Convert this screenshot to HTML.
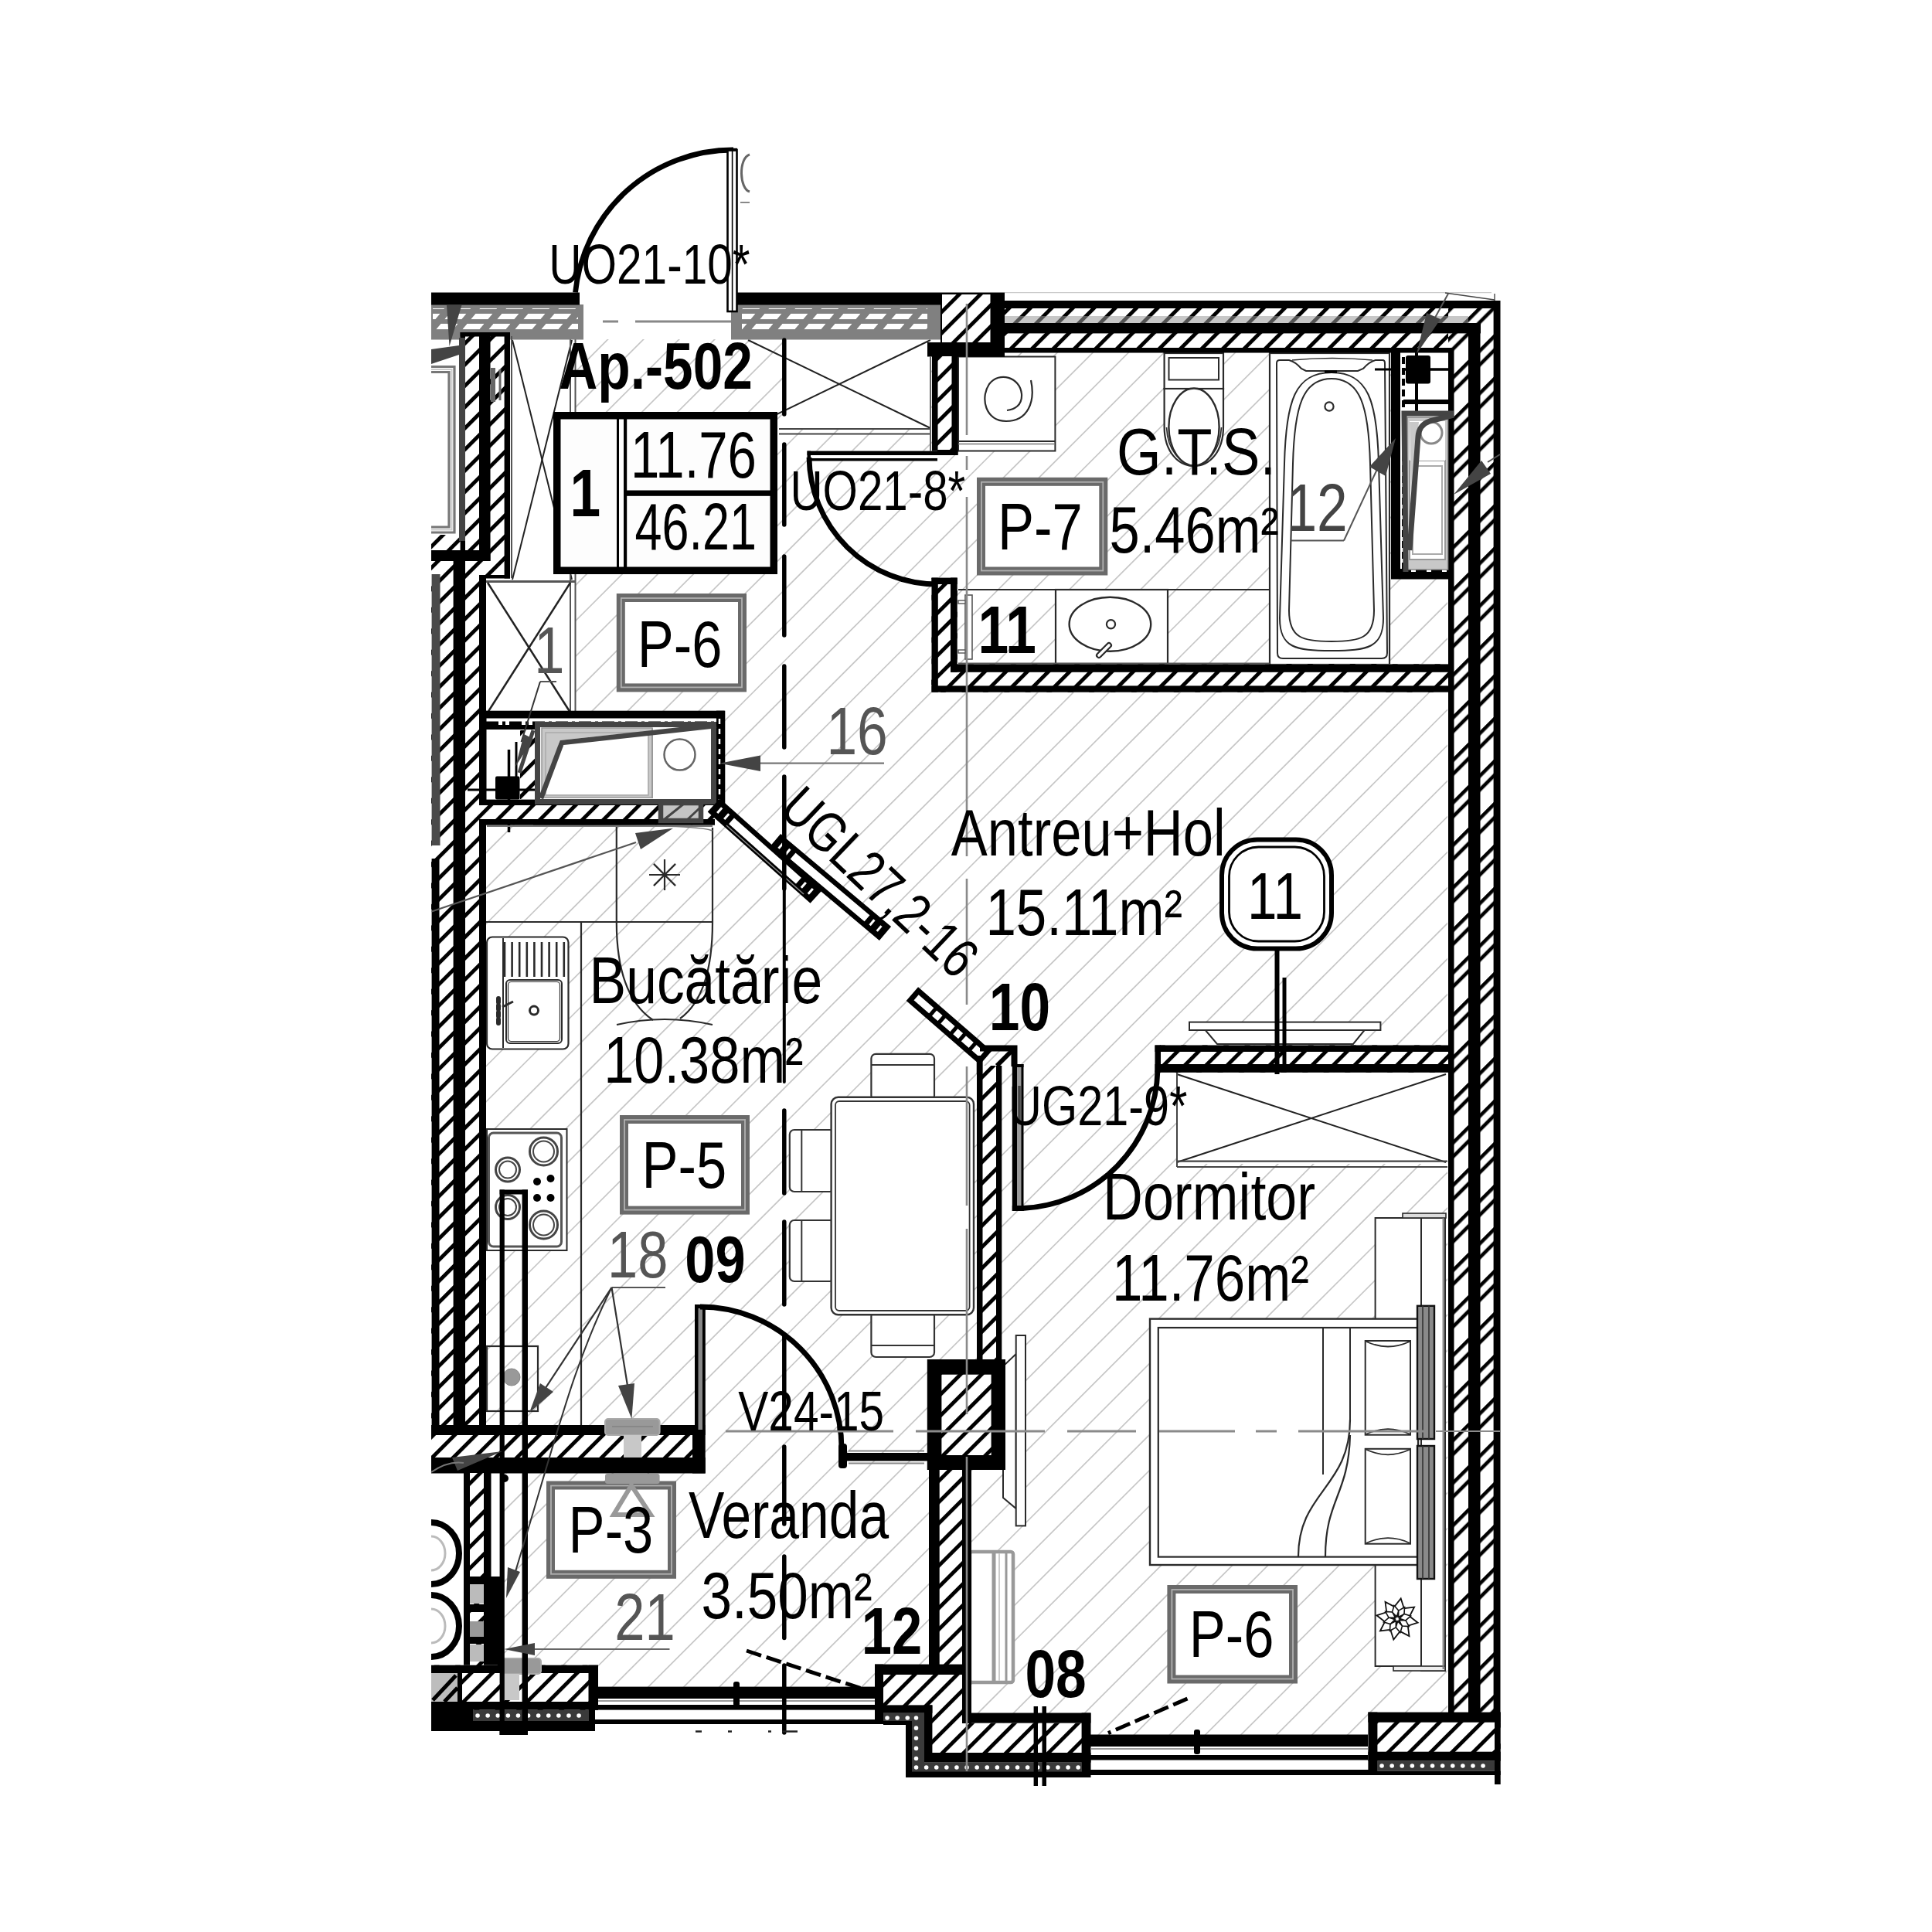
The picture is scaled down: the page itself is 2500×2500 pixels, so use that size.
<!DOCTYPE html>
<html lang="ro"><head><meta charset="utf-8"><title>Ap.-502</title>
<style>html,body{margin:0;padding:0;background:#fff}svg{display:block}text{font-family:"Liberation Sans",sans-serif}</style>
</head><body>
<svg width="2500" height="2500" viewBox="0 0 2500 2500">
<defs>
<pattern id="wh" patternUnits="userSpaceOnUse" width="20" height="19.4" patternTransform="rotate(-45)">
<rect width="20" height="19.4" fill="#fff"/><rect width="20" height="4.9" fill="#000"/></pattern>
<pattern id="wh2" patternUnits="userSpaceOnUse" width="20" height="38.9" patternTransform="rotate(-45)">
<rect width="20" height="38.9" fill="#fff"/><rect width="20" height="4.6" fill="#000"/><rect y="12.7" width="20" height="4.6" fill="#000"/></pattern>
<pattern id="gh" patternUnits="userSpaceOnUse" width="34" height="13" patternTransform="skewX(-40)">
<rect width="34" height="13" fill="#808080"/><rect x="4" y="3" width="22" height="7" fill="#fff"/></pattern>
<pattern id="ins" patternUnits="userSpaceOnUse" width="6" height="6">
<rect width="6" height="6" fill="#3a3a3a"/></pattern>
<clipPath id="floor"><polygon points="745,439 1873,439 1873,2250 1205,2250 1205,2190 650,2190 650,1906 629,1906 629,925 745,925"/></clipPath>
</defs>
<rect width="2500" height="2500" fill="#fff"/>

<g clip-path="url(#floor)" stroke="#c6c6c6" stroke-width="1.7">
<line x1="600" y1="441.5" x2="1900" y2="-858.5"/>
<line x1="600" y1="487.6" x2="1900" y2="-812.4"/>
<line x1="600" y1="533.6" x2="1900" y2="-766.4"/>
<line x1="600" y1="579.7" x2="1900" y2="-720.3"/>
<line x1="600" y1="625.7" x2="1900" y2="-674.3"/>
<line x1="600" y1="671.8" x2="1900" y2="-628.2"/>
<line x1="600" y1="717.8" x2="1900" y2="-582.2"/>
<line x1="600" y1="763.9" x2="1900" y2="-536.1"/>
<line x1="600" y1="809.9" x2="1900" y2="-490.1"/>
<line x1="600" y1="856.0" x2="1900" y2="-444.0"/>
<line x1="600" y1="902.0" x2="1900" y2="-398.0"/>
<line x1="600" y1="948.1" x2="1900" y2="-351.9"/>
<line x1="600" y1="994.1" x2="1900" y2="-305.9"/>
<line x1="600" y1="1040.2" x2="1900" y2="-259.8"/>
<line x1="600" y1="1086.2" x2="1900" y2="-213.8"/>
<line x1="600" y1="1132.2" x2="1900" y2="-167.8"/>
<line x1="600" y1="1178.3" x2="1900" y2="-121.7"/>
<line x1="600" y1="1224.4" x2="1900" y2="-75.6"/>
<line x1="600" y1="1270.4" x2="1900" y2="-29.6"/>
<line x1="600" y1="1316.5" x2="1900" y2="16.5"/>
<line x1="600" y1="1362.5" x2="1900" y2="62.5"/>
<line x1="600" y1="1408.6" x2="1900" y2="108.6"/>
<line x1="600" y1="1454.6" x2="1900" y2="154.6"/>
<line x1="600" y1="1500.7" x2="1900" y2="200.7"/>
<line x1="600" y1="1546.7" x2="1900" y2="246.7"/>
<line x1="600" y1="1592.8" x2="1900" y2="292.8"/>
<line x1="600" y1="1638.8" x2="1900" y2="338.8"/>
<line x1="600" y1="1684.9" x2="1900" y2="384.9"/>
<line x1="600" y1="1730.9" x2="1900" y2="430.9"/>
<line x1="600" y1="1776.9" x2="1900" y2="476.9"/>
<line x1="600" y1="1823.0" x2="1900" y2="523.0"/>
<line x1="600" y1="1869.1" x2="1900" y2="569.1"/>
<line x1="600" y1="1915.1" x2="1900" y2="615.1"/>
<line x1="600" y1="1961.2" x2="1900" y2="661.2"/>
<line x1="600" y1="2007.2" x2="1900" y2="707.2"/>
<line x1="600" y1="2053.2" x2="1900" y2="753.2"/>
<line x1="600" y1="2099.3" x2="1900" y2="799.3"/>
<line x1="600" y1="2145.4" x2="1900" y2="845.4"/>
<line x1="600" y1="2191.4" x2="1900" y2="891.4"/>
<line x1="600" y1="2237.4" x2="1900" y2="937.4"/>
<line x1="600" y1="2283.5" x2="1900" y2="983.5"/>
<line x1="600" y1="2329.6" x2="1900" y2="1029.6"/>
<line x1="600" y1="2375.6" x2="1900" y2="1075.6"/>
<line x1="600" y1="2421.7" x2="1900" y2="1121.7"/>
<line x1="600" y1="2467.7" x2="1900" y2="1167.7"/>
<line x1="600" y1="2513.8" x2="1900" y2="1213.8"/>
<line x1="600" y1="2559.8" x2="1900" y2="1259.8"/>
<line x1="600" y1="2605.8" x2="1900" y2="1305.8"/>
<line x1="600" y1="2651.9" x2="1900" y2="1351.9"/>
<line x1="600" y1="2697.9" x2="1900" y2="1397.9"/>
<line x1="600" y1="2744.0" x2="1900" y2="1444.0"/>
<line x1="600" y1="2790.1" x2="1900" y2="1490.1"/>
<line x1="600" y1="2836.1" x2="1900" y2="1536.1"/>
<line x1="600" y1="2882.2" x2="1900" y2="1582.2"/>
<line x1="600" y1="2928.2" x2="1900" y2="1628.2"/>
<line x1="600" y1="2974.2" x2="1900" y2="1674.2"/>
<line x1="600" y1="3020.3" x2="1900" y2="1720.3"/>
<line x1="600" y1="3066.3" x2="1900" y2="1766.3"/>
<line x1="600" y1="3112.4" x2="1900" y2="1812.4"/>
<line x1="600" y1="3158.4" x2="1900" y2="1858.4"/>
<line x1="600" y1="3204.5" x2="1900" y2="1904.5"/>
<line x1="600" y1="3250.6" x2="1900" y2="1950.6"/>
<line x1="600" y1="3296.6" x2="1900" y2="1996.6"/>
<line x1="600" y1="3342.7" x2="1900" y2="2042.7"/>
<line x1="600" y1="3388.7" x2="1900" y2="2088.7"/>
<line x1="600" y1="3434.8" x2="1900" y2="2134.8"/>
<line x1="600" y1="3480.8" x2="1900" y2="2180.8"/>
<line x1="600" y1="3526.9" x2="1900" y2="2226.9"/>
</g>
<rect x="660.0" y="439.0" width="81.0" height="486.0" fill="#fff" stroke="none" stroke-width="0" />
<rect x="1014.0" y="439.0" width="190.0" height="117.0" fill="#fff" stroke="none" stroke-width="0" />
<rect x="1523.0" y="1388.0" width="350.0" height="118.0" fill="#fff" stroke="none" stroke-width="0" />
<rect x="629.0" y="925.0" width="301.0" height="117.0" fill="#fff" stroke="none" stroke-width="0" />
<rect x="1800.0" y="456.0" width="74.0" height="293.0" fill="#fff" stroke="none" stroke-width="0" />
<line x1="663.0" y1="440.0" x2="740.0" y2="750.0" stroke="#222" stroke-width="2" />
<line x1="663.0" y1="750.0" x2="740.0" y2="440.0" stroke="#222" stroke-width="2" />
<line x1="738.0" y1="439.0" x2="738.0" y2="925.0" stroke="#555" stroke-width="2" />
<line x1="744.5" y1="439.0" x2="744.5" y2="925.0" stroke="#555" stroke-width="2" />
<rect x="629.0" y="752.5" width="109.0" height="170.5" fill="none" stroke="none" stroke-width="0" />
<line x1="629.0" y1="752.5" x2="745.0" y2="752.5" stroke="#555" stroke-width="3" />
<line x1="631.0" y1="754.0" x2="738.0" y2="922.0" stroke="#222" stroke-width="2.5" />
<line x1="631.0" y1="922.0" x2="738.0" y2="754.0" stroke="#222" stroke-width="2.5" />
<line x1="968.0" y1="440.0" x2="1204.0" y2="554.0" stroke="#222" stroke-width="2" />
<line x1="1204.0" y1="440.0" x2="968.0" y2="554.0" stroke="#222" stroke-width="2" />
<line x1="1008.0" y1="555.0" x2="1203.0" y2="555.0" stroke="#444" stroke-width="2.2" />
<line x1="1008.0" y1="561.5" x2="1203.0" y2="561.5" stroke="#444" stroke-width="2.2" />
<line x1="1523.0" y1="1390.0" x2="1871.0" y2="1504.0" stroke="#222" stroke-width="2" />
<line x1="1523.0" y1="1504.0" x2="1871.0" y2="1390.0" stroke="#222" stroke-width="2" />
<line x1="1523.0" y1="1388.0" x2="1523.0" y2="1510.0" stroke="#444" stroke-width="2" />
<line x1="1523.0" y1="1502.6" x2="1873.0" y2="1502.6" stroke="#444" stroke-width="2.2" />
<line x1="1523.0" y1="1510.0" x2="1873.0" y2="1510.0" stroke="#444" stroke-width="2.2" />
<rect x="716.0" y="533.0" width="290.0" height="210.0" fill="#000" stroke="none" stroke-width="0" />
<rect x="725.5" y="542.5" width="72.5" height="191.0" fill="#fdfdfd" stroke="none" stroke-width="0" />
<rect x="801.0" y="542.5" width="6.0" height="191.0" fill="#fdfdfd" stroke="none" stroke-width="0" />
<rect x="811.2" y="542.5" width="185.3" height="92.0" fill="#fdfdfd" stroke="none" stroke-width="0" />
<rect x="811.2" y="641.8" width="185.3" height="91.7" fill="#fdfdfd" stroke="none" stroke-width="0" />
<line x1="629.0" y1="1193.0" x2="922.0" y2="1193.0" stroke="#2a2a2a" stroke-width="2.2" />
<line x1="797.8" y1="1068.0" x2="797.8" y2="1193.0" stroke="#2a2a2a" stroke-width="2.2" />
<line x1="752.0" y1="1193.0" x2="752.0" y2="1844.0" stroke="#2a2a2a" stroke-width="2.2" />
<path d="M797.8,1193 C797.8,1260 815,1300 845,1320 M922,1071 L922,1193 C922,1262 905,1300 880,1318" fill="none" stroke="#2a2a2a" stroke-width="2.2" />
<path d="M798,1326 Q860,1312 922,1326" fill="none" stroke="#2a2a2a" stroke-width="2" />
<path d="M690,1068 Q905,1066 922,1075" fill="none" stroke="#777" stroke-width="1.5" />
<line x1="840.0" y1="1132.0" x2="880.0" y2="1132.0" stroke="#2a2a2a" stroke-width="2.2" />
<line x1="845.9" y1="1117.9" x2="874.1" y2="1146.1" stroke="#2a2a2a" stroke-width="2.2" />
<line x1="860.0" y1="1112.0" x2="860.0" y2="1152.0" stroke="#2a2a2a" stroke-width="2.2" />
<line x1="874.1" y1="1117.9" x2="845.9" y2="1146.1" stroke="#2a2a2a" stroke-width="2.2" />
<rect x="630.0" y="1212.5" width="105.5" height="145.0" fill="#fff" stroke="#2a2a2a" stroke-width="2.2" rx="7"/>
<line x1="651.0" y1="1214.0" x2="651.0" y2="1356.0" stroke="#2a2a2a" stroke-width="2" />
<line x1="653.0" y1="1219.0" x2="653.0" y2="1264.0" stroke="#2a2a2a" stroke-width="2.6" />
<line x1="662.6" y1="1219.0" x2="662.6" y2="1264.0" stroke="#2a2a2a" stroke-width="2.6" />
<line x1="672.2" y1="1219.0" x2="672.2" y2="1264.0" stroke="#2a2a2a" stroke-width="2.6" />
<line x1="681.8" y1="1219.0" x2="681.8" y2="1264.0" stroke="#2a2a2a" stroke-width="2.6" />
<line x1="691.4" y1="1219.0" x2="691.4" y2="1264.0" stroke="#2a2a2a" stroke-width="2.6" />
<line x1="701.0" y1="1219.0" x2="701.0" y2="1264.0" stroke="#2a2a2a" stroke-width="2.6" />
<line x1="710.6" y1="1219.0" x2="710.6" y2="1264.0" stroke="#2a2a2a" stroke-width="2.6" />
<line x1="720.2" y1="1219.0" x2="720.2" y2="1264.0" stroke="#2a2a2a" stroke-width="2.6" />
<line x1="729.8" y1="1219.0" x2="729.8" y2="1264.0" stroke="#2a2a2a" stroke-width="2.6" />
<rect x="655.0" y="1268.0" width="72.0" height="82.0" fill="#fff" stroke="#2a2a2a" stroke-width="2" rx="5"/>
<rect x="657.5" y="1270.5" width="67.0" height="77.0" fill="none" stroke="#2a2a2a" stroke-width="1.2" rx="4"/>
<circle cx="691.0" cy="1307.6" r="5.5" fill="#fff" stroke="#2a2a2a" stroke-width="3"/>
<path d="M645,1292 L645,1326" fill="none" stroke="#2a2a2a" stroke-width="6" stroke-dasharray="5 4" stroke-linecap="round"/>
<path d="M650,1303 L664,1296" fill="none" stroke="#2a2a2a" stroke-width="3" />
<rect x="630.0" y="1461.0" width="103.5" height="157.0" fill="#fff" stroke="#2a2a2a" stroke-width="2" />
<rect x="632.5" y="1466.0" width="94.0" height="147.0" fill="none" stroke="#555" stroke-width="3" rx="6"/>
<circle cx="703.5" cy="1490.0" r="18.0" fill="#fff" stroke="#444" stroke-width="3"/>
<circle cx="703.5" cy="1490.0" r="13.5" fill="none" stroke="#444" stroke-width="2"/>
<circle cx="657.0" cy="1513.6" r="15.5" fill="#fff" stroke="#444" stroke-width="3"/>
<circle cx="657.0" cy="1513.6" r="11.0" fill="none" stroke="#444" stroke-width="2"/>
<circle cx="657.0" cy="1562.0" r="15.5" fill="#fff" stroke="#444" stroke-width="3"/>
<circle cx="657.0" cy="1562.0" r="11.0" fill="none" stroke="#444" stroke-width="2"/>
<circle cx="703.5" cy="1585.0" r="18.0" fill="#fff" stroke="#444" stroke-width="3"/>
<circle cx="703.5" cy="1585.0" r="13.5" fill="none" stroke="#444" stroke-width="2"/>
<circle cx="695.0" cy="1529.0" r="5.0" fill="#000" stroke="none" stroke-width="0"/>
<circle cx="712.5" cy="1525.0" r="5.0" fill="#000" stroke="none" stroke-width="0"/>
<circle cx="695.0" cy="1550.0" r="5.0" fill="#000" stroke="none" stroke-width="0"/>
<circle cx="712.5" cy="1550.0" r="5.0" fill="#000" stroke="none" stroke-width="0"/>
<rect x="630.0" y="1742.0" width="66.0" height="84.0" fill="none" stroke="#2a2a2a" stroke-width="2.2" />
<circle cx="662.0" cy="1782.0" r="11.0" fill="#999" stroke="#888" stroke-width="1"/>
<rect x="1127.4" y="1363.8" width="81.6" height="60.0" fill="#fff" stroke="#333" stroke-width="2.2" rx="6"/>
<line x1="1128.0" y1="1378.0" x2="1208.5" y2="1378.0" stroke="#333" stroke-width="2" />
<rect x="1127.4" y="1697.0" width="81.6" height="59.0" fill="#fff" stroke="#333" stroke-width="2.2" rx="6"/>
<line x1="1128.0" y1="1741.0" x2="1208.5" y2="1741.0" stroke="#333" stroke-width="2" />
<rect x="1021.8" y="1462.0" width="58.0" height="80.0" fill="#fff" stroke="#333" stroke-width="2.2" rx="6"/>
<line x1="1037.3" y1="1463.0" x2="1037.3" y2="1541.0" stroke="#333" stroke-width="2" />
<rect x="1021.8" y="1579.0" width="58.0" height="79.0" fill="#fff" stroke="#333" stroke-width="2.2" rx="6"/>
<line x1="1037.3" y1="1580.0" x2="1037.3" y2="1657.0" stroke="#333" stroke-width="2" />
<rect x="1075.6" y="1419.7" width="184.4" height="281.6" fill="#fff" stroke="#333" stroke-width="2.4" rx="9"/>
<rect x="1081.0" y="1425.0" width="173.6" height="271.0" fill="none" stroke="#333" stroke-width="1.8" rx="5"/>
<rect x="1240.0" y="461.5" width="125.4" height="122.0" fill="#fff" stroke="#2a2a2a" stroke-width="2" />
<line x1="1240.0" y1="571.0" x2="1365.0" y2="571.0" stroke="#2a2a2a" stroke-width="2" />
<line x1="1240.0" y1="574.5" x2="1365.0" y2="574.5" stroke="#777" stroke-width="1.5" />
<path d="M1334,492 C1340,520 1330,545 1302,545 C1275,545 1268,515 1280,497 C1293,480 1320,488 1322,510 C1323,525 1312,530 1303,531" fill="none" stroke="#2a2a2a" stroke-width="2.2" />
<rect x="1506.6" y="457.0" width="76.4" height="46.0" fill="#fff" stroke="#2a2a2a" stroke-width="2.2" />
<rect x="1512.5" y="463.0" width="64.5" height="28.5" fill="none" stroke="#2a2a2a" stroke-width="2" />
<path d="M1506.6,503 L1506.6,552 C1506.6,585 1525,603 1545,603 C1565,603 1583,585 1583,552 L1583,503 Z" fill="#fff" stroke="#2a2a2a" stroke-width="2.2" />
<path d="M1509.5,553 C1511,584 1527,599.5 1545,599.5 C1563,599.5 1579,584 1580.5,553" fill="none" stroke="#2a2a2a" stroke-width="1.6" />
<ellipse cx="1545.0" cy="552.5" rx="32.6" ry="50.0" fill="#fff" stroke="#2a2a2a" stroke-width="2.4"/>
<rect x="1643.0" y="457.0" width="155.0" height="403.0" fill="#fff" stroke="#2a2a2a" stroke-width="2.2" />
<path d="M1652,470 Q1652,466 1656,466 L1668,466 Q1676,468 1684,477 L1690,480 L1757,480 L1764,477 Q1772,468 1780,466 L1789,466 Q1792,466 1792,470 L1795,845 Q1795,852 1788,852 L1660,852 Q1653,852 1653,845 Z" fill="#fff" stroke="#2a2a2a" stroke-width="2" />
<path d="M1672,466 Q1724,461 1776,466" fill="none" stroke="#2a2a2a" stroke-width="1.6" />
<path d="M1662,600 C1664,520 1675,482 1723,482 C1771,482 1782,520 1784,600 L1790,800 C1790,838 1770,842 1723,842 C1676,842 1656,838 1656,800 Z" fill="none" stroke="#2a2a2a" stroke-width="2" />
<path d="M1673,600 C1675,525 1686,490 1723,490 C1760,490 1771,525 1773,600 L1778,790 C1778,826 1760,830 1723,830 C1686,830 1668,826 1668,790 Z" fill="none" stroke="#2a2a2a" stroke-width="2" />
<circle cx="1720.0" cy="526.0" r="5.6" fill="#fff" stroke="#2a2a2a" stroke-width="2.2"/>
<line x1="1714.0" y1="481.0" x2="1730.0" y2="481.0" stroke="#000" stroke-width="3.5" />
<line x1="1240.0" y1="763.0" x2="1643.0" y2="763.0" stroke="#2a2a2a" stroke-width="2" />
<rect x="1366.0" y="763.0" width="145.0" height="96.0" fill="#fff" stroke="#2a2a2a" stroke-width="2.2" />
<ellipse cx="1436.4" cy="807.7" rx="52.8" ry="35.0" fill="#fff" stroke="#2a2a2a" stroke-width="2.4"/>
<circle cx="1437.5" cy="807.7" r="5.6" fill="#fff" stroke="#2a2a2a" stroke-width="2.2"/>
<path d="M1422,848 L1435,835" fill="none" stroke="#2a2a2a" stroke-width="8" stroke-linecap="round"/>
<path d="M1422,848 L1435,835" fill="none" stroke="#fff" stroke-width="3.6" stroke-linecap="round"/>
<rect x="1249.0" y="770.0" width="9.0" height="83.0" fill="#fff" stroke="#555" stroke-width="1.6" />
<rect x="1240.0" y="777.0" width="9.0" height="4.0" fill="#fff" stroke="#555" stroke-width="1.4" />
<rect x="1240.0" y="841.0" width="9.0" height="4.0" fill="#fff" stroke="#555" stroke-width="1.4" />
<polygon points="1559.7,1333.0 1765.7,1333.0 1751.0,1351.0 1575.0,1351.0" fill="#fff" stroke="#2a2a2a" stroke-width="2" />
<rect x="1539.0" y="1322.6" width="247.4" height="10.4" fill="#fff" stroke="#2a2a2a" stroke-width="2" />
<rect x="1779.6" y="1576.0" width="59.4" height="580.0" fill="#fff" stroke="#2a2a2a" stroke-width="2" />
<rect x="1839.0" y="1576.0" width="31.0" height="586.0" fill="#fff" stroke="#2a2a2a" stroke-width="2" />
<rect x="1815.0" y="1570.0" width="56.0" height="6.0" fill="#ddd" stroke="#2a2a2a" stroke-width="1.6" />
<rect x="1803.0" y="2156.0" width="67.0" height="6.0" fill="#eee" stroke="#2a2a2a" stroke-width="1.6" />
<line x1="1867.6" y1="1576.0" x2="1867.6" y2="2160.0" stroke="#777" stroke-width="2" />
<rect x="1488.0" y="1706.6" width="347.0" height="318.4" fill="#fff" stroke="#2a2a2a" stroke-width="2.4" />
<rect x="1498.8" y="1718.0" width="336.2" height="296.6" fill="#fff" stroke="#2a2a2a" stroke-width="2.2" />
<line x1="1712.0" y1="1718.0" x2="1712.0" y2="1908.0" stroke="#2a2a2a" stroke-width="2" />
<line x1="1747.0" y1="1718.0" x2="1747.0" y2="1840.0" stroke="#2a2a2a" stroke-width="2" />
<path d="M1747,1837 C1747,1925 1680,1930 1680,2014" fill="none" stroke="#2a2a2a" stroke-width="2.2" />
<path d="M1747,1857 C1745,1935 1715,1940 1715,2014" fill="none" stroke="#2a2a2a" stroke-width="2.2" />
<rect x="1766.7" y="1735.0" width="58.3" height="121.7" fill="#fff" stroke="#2a2a2a" stroke-width="2" />
<path d="M1768,1736 Q1796,1749 1824,1736" fill="none" stroke="#2a2a2a" stroke-width="1.8" />
<path d="M1768,1855.7 Q1796,1842.7 1824,1855.7" fill="none" stroke="#2a2a2a" stroke-width="1.8" />
<rect x="1766.7" y="1874.8" width="58.3" height="122.9" fill="#fff" stroke="#2a2a2a" stroke-width="2" />
<path d="M1768,1875.8 Q1796,1888.8 1824,1875.8" fill="none" stroke="#2a2a2a" stroke-width="1.8" />
<path d="M1768,1996.7 Q1796,1983.7 1824,1996.7" fill="none" stroke="#2a2a2a" stroke-width="1.8" />
<rect x="1834.0" y="1689.8" width="22.0" height="172.2" fill="#8a8a8a" stroke="#111" stroke-width="2.4" />
<line x1="1841.0" y1="1689.8" x2="1841.0" y2="1862.0" stroke="#333" stroke-width="1.6" />
<line x1="1849.0" y1="1689.8" x2="1849.0" y2="1862.0" stroke="#333" stroke-width="1.6" />
<rect x="1834.0" y="1871.0" width="22.0" height="172.0" fill="#8a8a8a" stroke="#111" stroke-width="2.4" />
<line x1="1841.0" y1="1871.0" x2="1841.0" y2="2043.0" stroke="#333" stroke-width="1.6" />
<line x1="1849.0" y1="1871.0" x2="1849.0" y2="2043.0" stroke="#333" stroke-width="1.6" />
<polygon points="1811.9,2095.7 1822.7,2103.5 1834.6,2099.7 1824.7,2092.0" fill="#fff" stroke="#111" stroke-width="1.8" />
<polygon points="1810.3,2098.3 1812.4,2111.4 1823.5,2117.1 1821.9,2104.7" fill="#fff" stroke="#111" stroke-width="1.8" />
<polygon points="1807.3,2098.9 1799.5,2109.7 1803.3,2121.6 1811.0,2111.7" fill="#fff" stroke="#111" stroke-width="1.8" />
<polygon points="1804.7,2097.3 1791.6,2099.4 1785.9,2110.5 1798.3,2108.9" fill="#fff" stroke="#111" stroke-width="1.8" />
<polygon points="1804.1,2094.3 1793.3,2086.5 1781.4,2090.3 1791.3,2098.0" fill="#fff" stroke="#111" stroke-width="1.8" />
<polygon points="1805.7,2091.7 1803.6,2078.6 1792.5,2072.9 1794.1,2085.3" fill="#fff" stroke="#111" stroke-width="1.8" />
<polygon points="1808.7,2091.1 1816.5,2080.3 1812.7,2068.4 1805.0,2078.3" fill="#fff" stroke="#111" stroke-width="1.8" />
<polygon points="1811.3,2092.7 1824.4,2090.6 1830.1,2079.5 1817.7,2081.1" fill="#fff" stroke="#111" stroke-width="1.8" />
<polygon points="1810.5,2096.6 1814.3,2104.0 1823.3,2104.5 1818.9,2096.7" fill="#fff" stroke="#111" stroke-width="1.6" />
<polygon points="1808.7,2097.9 1806.1,2105.8 1812.0,2112.5 1814.5,2103.9" fill="#fff" stroke="#111" stroke-width="1.6" />
<polygon points="1806.4,2097.5 1799.0,2101.3 1798.5,2110.3 1806.3,2105.9" fill="#fff" stroke="#111" stroke-width="1.6" />
<polygon points="1805.1,2095.7 1797.2,2093.1 1790.5,2099.0 1799.1,2101.5" fill="#fff" stroke="#111" stroke-width="1.6" />
<polygon points="1805.5,2093.4 1801.7,2086.0 1792.7,2085.5 1797.1,2093.3" fill="#fff" stroke="#111" stroke-width="1.6" />
<polygon points="1807.3,2092.1 1809.9,2084.2 1804.0,2077.5 1801.5,2086.1" fill="#fff" stroke="#111" stroke-width="1.6" />
<polygon points="1809.6,2092.5 1817.0,2088.7 1817.5,2079.7 1809.7,2084.1" fill="#fff" stroke="#111" stroke-width="1.6" />
<polygon points="1810.9,2094.3 1818.8,2096.9 1825.5,2091.0 1816.9,2088.5" fill="#fff" stroke="#111" stroke-width="1.6" />
<polygon points="1298.0,1768.0 1314.7,1752.0 1314.7,1952.0 1298.0,1938.0" fill="#fff" stroke="#2a2a2a" stroke-width="2" />
<rect x="1314.7" y="1728.0" width="12.3" height="246.4" fill="#fff" stroke="#2a2a2a" stroke-width="2" />
<rect x="1255.0" y="2008.0" width="56.0" height="169.0" fill="#fff" stroke="#999" stroke-width="4.5" rx="3"/>
<line x1="1286.0" y1="2010.0" x2="1286.0" y2="2175.0" stroke="#999" stroke-width="5" />
<line x1="1293.0" y1="2010.0" x2="1293.0" y2="2175.0" stroke="#ccc" stroke-width="2" />
<line x1="1302.0" y1="2010.0" x2="1302.0" y2="2175.0" stroke="#999" stroke-width="3" />
<rect x="558.0" y="394.0" width="197.0" height="45.5" fill="#808080" stroke="none" stroke-width="0" />
<rect x="946.0" y="394.0" width="271.0" height="45.5" fill="#808080" stroke="none" stroke-width="0" />
<rect x="560.0" y="399.0" width="188.0" height="30.0" fill="url(#gh)" stroke="none" stroke-width="0" />
<rect x="960.0" y="399.0" width="240.0" height="30.0" fill="url(#gh)" stroke="none" stroke-width="0" />
<rect x="558.0" y="378.5" width="192.0" height="16.0" fill="#000" stroke="none" stroke-width="0" />
<rect x="951.5" y="378.5" width="265.5" height="16.0" fill="#000" stroke="none" stroke-width="0" />
<polygon points="578.0,394.7 597.5,394.7 581.5,448.0" fill="#444" stroke="none" stroke-width="0" />
<rect x="1217.0" y="378.5" width="83.0" height="83.0" fill="#000" stroke="none" stroke-width="0" />
<rect x="1219.0" y="381.0" width="62.5" height="62.0" fill="url(#wh)" stroke="none" stroke-width="0" />
<rect x="1200.0" y="443.0" width="100.0" height="18.5" fill="#000" stroke="none" stroke-width="0" />
<rect x="1300.0" y="389.0" width="641.0" height="67.0" fill="url(#wh)" stroke="none" stroke-width="0" />
<rect x="1874.0" y="389.0" width="67.0" height="1827.0" fill="url(#wh2)" stroke="none" stroke-width="0" />
<rect x="1300.0" y="399.0" width="616.0" height="19.0" fill="none" stroke="none" stroke-width="0" />
<rect x="1300.0" y="409.0" width="600.0" height="9.0" fill="#999" stroke="none" stroke-width="0" opacity="0.55"/>
<rect x="1300.0" y="389.0" width="641.0" height="10.0" fill="#000" stroke="none" stroke-width="0" />
<rect x="1932.6" y="389.0" width="8.9" height="1827.0" fill="#000" stroke="none" stroke-width="0" />
<rect x="1300.0" y="418.0" width="616.0" height="13.4" fill="#000" stroke="none" stroke-width="0" />
<rect x="1900.0" y="418.0" width="15.5" height="1798.0" fill="#000" stroke="none" stroke-width="0" />
<rect x="1300.0" y="450.0" width="581.0" height="6.5" fill="#000" stroke="none" stroke-width="0" />
<rect x="1874.0" y="450.0" width="7.5" height="1766.0" fill="#000" stroke="none" stroke-width="0" />
<line x1="1300.0" y1="378.6" x2="1930.0" y2="378.6" stroke="#ccc" stroke-width="1.2" />
<line x1="1934.0" y1="380.0" x2="1934.0" y2="389.0" stroke="#555" stroke-width="1.5" />
<path d="M1870,379 L1934,388" fill="none" stroke="#444" stroke-width="1.5" />
<rect x="1208.0" y="461.0" width="31.0" height="128.0" fill="url(#wh)" stroke="none" stroke-width="0" />
<rect x="1206.0" y="461.0" width="7.5" height="128.0" fill="#000" stroke="none" stroke-width="0" />
<rect x="1231.5" y="461.0" width="8.0" height="128.0" fill="#000" stroke="none" stroke-width="0" />
<rect x="1206.0" y="582.0" width="33.5" height="7.0" fill="#000" stroke="none" stroke-width="0" />
<line x1="1204.0" y1="461.0" x2="1204.0" y2="586.0" stroke="#666" stroke-width="2" />
<rect x="1205.5" y="748.0" width="33.2" height="147.7" fill="url(#wh)" stroke="none" stroke-width="0" />
<rect x="1205.5" y="859.4" width="668.5" height="36.3" fill="url(#wh)" stroke="none" stroke-width="0" />
<rect x="1205.5" y="747.6" width="8.3" height="148.1" fill="#000" stroke="none" stroke-width="0" />
<rect x="1205.5" y="887.4" width="668.5" height="8.3" fill="#000" stroke="none" stroke-width="0" />
<rect x="1205.5" y="747.6" width="33.2" height="8.4" fill="#000" stroke="none" stroke-width="0" />
<rect x="1230.0" y="747.6" width="8.7" height="122.2" fill="#000" stroke="none" stroke-width="0" />
<rect x="1230.0" y="859.4" width="644.0" height="10.4" fill="#000" stroke="none" stroke-width="0" />
<line x1="1240.0" y1="858.5" x2="1643.0" y2="858.5" stroke="#555" stroke-width="2" />
<rect x="1800.0" y="450.0" width="81.0" height="299.0" fill="none" stroke="#000" stroke-width="0" />
<rect x="1800.0" y="456.0" width="12.0" height="293.0" fill="#000" stroke="none" stroke-width="0" />
<rect x="1800.0" y="740.0" width="81.0" height="9.5" fill="#000" stroke="none" stroke-width="0" />
<line x1="1816.0" y1="462.0" x2="1816.0" y2="740.0" stroke="#000" stroke-width="4" stroke-dasharray="9 5"/>
<line x1="1816.0" y1="520.0" x2="1874.0" y2="520.0" stroke="#000" stroke-width="6" />
<line x1="1816.0" y1="478.0" x2="1874.0" y2="478.0" stroke="#000" stroke-width="3.5" />
<line x1="1833.0" y1="456.0" x2="1833.0" y2="535.0" stroke="#000" stroke-width="4" />
<rect x="1819.0" y="460.0" width="32.0" height="36.5" fill="#000" stroke="none" stroke-width="0" rx="3"/>
<line x1="1779.0" y1="478.0" x2="1800.0" y2="478.0" stroke="#000" stroke-width="3" />
<line x1="1812.0" y1="738.0" x2="1874.0" y2="738.0" stroke="#000" stroke-width="4" stroke-dasharray="14 6"/>
<rect x="1821.0" y="540.0" width="52.6" height="197.0" fill="#c8c8c8" stroke="#888" stroke-width="1.5" />
<rect x="1824.0" y="596.0" width="46.0" height="128.0" fill="#fff" stroke="#999" stroke-width="2" />
<rect x="1828.0" y="603.0" width="38.0" height="114.0" fill="#fff" stroke="#aaa" stroke-width="2" />
<rect x="1824.0" y="545.0" width="46.0" height="51.0" fill="#fff" stroke="none" stroke-width="0" />
<path d="M1824,546 L1836,546 L1826,640 Z" fill="#c8c8c8" stroke="none" stroke-width="0" />
<circle cx="1852.0" cy="560.0" r="14.0" fill="#fff" stroke="#888" stroke-width="3"/>
<path d="M1881,535 L1817,535 L1819,740" fill="none" stroke="#444" stroke-width="7" stroke-linejoin="miter"/>
<path d="M1881,537 L1850,545 Q1836,550 1835,565 L1824,712" fill="none" stroke="#444" stroke-width="7" stroke-linejoin="round"/>
<rect x="596.0" y="430.0" width="64.0" height="318.0" fill="url(#wh)" stroke="none" stroke-width="0" />
<rect x="558.0" y="692.0" width="102.0" height="56.0" fill="url(#wh)" stroke="none" stroke-width="0" />
<rect x="558.0" y="726.0" width="71.0" height="1180.0" fill="url(#wh)" stroke="none" stroke-width="0" />
<rect x="595.6" y="430.0" width="6.4" height="296.0" fill="#000" stroke="none" stroke-width="0" />
<rect x="595.6" y="430.0" width="64.4" height="5.5" fill="#000" stroke="none" stroke-width="0" />
<rect x="620.0" y="430.0" width="14.5" height="296.0" fill="#000" stroke="none" stroke-width="0" />
<rect x="652.6" y="430.0" width="7.4" height="318.5" fill="#000" stroke="none" stroke-width="0" />
<line x1="662.0" y1="435.0" x2="662.0" y2="748.0" stroke="#555" stroke-width="2" />
<rect x="558.0" y="712.0" width="76.5" height="14.0" fill="#000" stroke="none" stroke-width="0" />
<rect x="586.6" y="712.0" width="15.4" height="1194.0" fill="#000" stroke="none" stroke-width="0" />
<rect x="620.0" y="744.0" width="40.0" height="4.5" fill="#000" stroke="none" stroke-width="0" />
<rect x="620.0" y="744.0" width="9.0" height="1100.0" fill="#000" stroke="none" stroke-width="0" />
<rect x="558.6" y="743.0" width="10.9" height="351.0" fill="#4a4a4a" stroke="none" stroke-width="0" />
<rect x="558.6" y="1111.0" width="9.9" height="795.0" fill="#000" stroke="none" stroke-width="0" />
<path d="M558,474.5 L588,474.5 L588,689 L558,689" fill="none" stroke="#777" stroke-width="3.2" />
<path d="M558,481.5 L581,481.5 L581,682 L558,682" fill="none" stroke="#777" stroke-width="3.2" />
<path d="M558,478 L584.5,478 L584.5,685.5 L558,685.5" fill="none" stroke="#ccc" stroke-width="2" />
<polygon points="558.0,452.0 594.0,447.0 594.0,459.0 558.0,471.0" fill="#444" stroke="none" stroke-width="0" />
<rect x="594.0" y="437.0" width="8.0" height="263.0" fill="#444" stroke="none" stroke-width="0" />
<line x1="638.0" y1="476.0" x2="638.0" y2="520.0" stroke="#666" stroke-width="6" />
<line x1="647.0" y1="478.0" x2="647.0" y2="518.0" stroke="#666" stroke-width="3" />
<rect x="620.7" y="919.7" width="316.8" height="9.8" fill="#000" stroke="none" stroke-width="0" />
<rect x="927.0" y="919.7" width="11.3" height="122.3" fill="#000" stroke="none" stroke-width="0" />
<rect x="620.7" y="1034.6" width="316.8" height="8.4" fill="#000" stroke="none" stroke-width="0" />
<rect x="620.7" y="919.7" width="8.8" height="123.3" fill="#000" stroke="none" stroke-width="0" />
<line x1="629.0" y1="936.0" x2="927.0" y2="936.0" stroke="#000" stroke-width="5" stroke-dasharray="16 5 4 5"/>
<line x1="931.0" y1="930.0" x2="931.0" y2="1035.0" stroke="#fff" stroke-width="2.5" stroke-dasharray="7 6"/>
<rect x="629.0" y="938.0" width="63.0" height="99.0" fill="none" stroke="none" stroke-width="0" />
<line x1="629.0" y1="941.0" x2="692.0" y2="941.0" stroke="#000" stroke-width="6" />
<rect x="673.0" y="945.0" width="19.0" height="89.0" fill="url(#wh)" stroke="none" stroke-width="0" />
<line x1="668.0" y1="960.0" x2="668.0" y2="1034.0" stroke="#000" stroke-width="3" />
<rect x="641.0" y="1004.5" width="31.5" height="30.0" fill="#000" stroke="none" stroke-width="0" rx="2"/>
<line x1="605.0" y1="1022.0" x2="712.0" y2="1022.0" stroke="#000" stroke-width="3" />
<line x1="658.5" y1="970.0" x2="658.5" y2="1077.0" stroke="#000" stroke-width="3.5" />
<rect x="692.0" y="934.0" width="235.0" height="107.0" fill="#fff" stroke="#444" stroke-width="0" />
<rect x="701.0" y="942.0" width="143.0" height="90.0" fill="#c8c8c8" stroke="#999" stroke-width="1.5" />
<polygon points="724.0,958.0 838.0,946.0 838.0,1028.0 706.0,1028.0" fill="#fff" stroke="none" stroke-width="0" />
<rect x="706.0" y="948.0" width="133.0" height="81.0" fill="none" stroke="#aaa" stroke-width="1.5" />
<line x1="844.0" y1="942.0" x2="844.0" y2="1033.0" stroke="#999" stroke-width="2" />
<circle cx="879.5" cy="976.6" r="20.0" fill="#fff" stroke="#666" stroke-width="2.5"/>
<path d="M927,939 L727,961 L700,1033" fill="none" stroke="#444" stroke-width="6.5" />
<rect x="695.5" y="937.5" width="228.0" height="100.0" fill="none" stroke="#444" stroke-width="7" />
<rect x="620.0" y="1042.0" width="312.0" height="20.0" fill="url(#wh)" stroke="none" stroke-width="0" />
<rect x="620.0" y="1060.0" width="305.0" height="7.7" fill="#000" stroke="none" stroke-width="0" />
<rect x="855.0" y="1039.0" width="52.0" height="23.0" fill="#c4c4c4" stroke="#444" stroke-width="6.5" />
<path d="M860,1060 L885,1040 M890,1060 L905,1046" fill="none" stroke="#444" stroke-width="3" />
<line x1="630.0" y1="1069.0" x2="922.0" y2="1069.0" stroke="#777" stroke-width="2" />
<rect x="558.0" y="1844.0" width="354.0" height="62.0" fill="url(#wh)" stroke="none" stroke-width="0" />
<rect x="558.0" y="1844.0" width="354.7" height="13.0" fill="#000" stroke="none" stroke-width="0" />
<rect x="558.0" y="1886.0" width="354.7" height="20.5" fill="#000" stroke="none" stroke-width="0" />
<rect x="896.0" y="1844.0" width="16.7" height="62.5" fill="#000" stroke="none" stroke-width="0" />
<rect x="600.0" y="1906.0" width="35.0" height="254.0" fill="url(#wh)" stroke="none" stroke-width="0" />
<rect x="600.0" y="1906.0" width="8.0" height="254.0" fill="#000" stroke="none" stroke-width="0" />
<rect x="626.0" y="1906.0" width="9.5" height="254.0" fill="#000" stroke="none" stroke-width="0" />
<rect x="608.0" y="2050.0" width="18.0" height="25.0" fill="#bbb" stroke="none" stroke-width="0" />
<rect x="608.0" y="2098.0" width="18.0" height="20.0" fill="#999" stroke="none" stroke-width="0" />
<rect x="608.0" y="2128.0" width="18.0" height="22.0" fill="#bbb" stroke="none" stroke-width="0" />
<rect x="600.0" y="2040.0" width="36.0" height="10.0" fill="#000" stroke="none" stroke-width="0" />
<rect x="600.0" y="2076.0" width="36.0" height="10.0" fill="#000" stroke="none" stroke-width="0" />
<rect x="600.0" y="2118.0" width="36.0" height="9.0" fill="#000" stroke="none" stroke-width="0" />
<rect x="626.0" y="2040.0" width="22.0" height="120.0" fill="#000" stroke="none" stroke-width="0" />
<rect x="558.0" y="2154.7" width="216.0" height="58.0" fill="url(#wh)" stroke="none" stroke-width="0" />
<rect x="558.0" y="2165.0" width="34.0" height="37.0" fill="#bdbdbd" stroke="none" stroke-width="0" />
<path d="M560,2200 L590,2168 M575,2202 L592,2184" fill="none" stroke="#000" stroke-width="5" />
<rect x="558.0" y="2154.7" width="216.0" height="10.3" fill="#000" stroke="none" stroke-width="0" />
<rect x="761.5" y="2154.7" width="12.5" height="58.0" fill="#000" stroke="none" stroke-width="0" />
<rect x="558.0" y="2202.0" width="216.0" height="10.7" fill="#000" stroke="none" stroke-width="0" />
<rect x="592.0" y="2165.0" width="6.0" height="37.0" fill="#000" stroke="none" stroke-width="0" />
<rect x="612.0" y="2213.0" width="150.0" height="14.0" fill="url(#ins)" stroke="none" stroke-width="0" />
<rect x="558.0" y="2212.0" width="54.0" height="28.0" fill="#000" stroke="none" stroke-width="0" />
<rect x="612.0" y="2227.0" width="158.0" height="13.0" fill="#000" stroke="none" stroke-width="0" />
<rect x="762.0" y="2198.0" width="8.0" height="42.0" fill="#000" stroke="none" stroke-width="0" />
<line x1="618.0" y1="2220.0" x2="760.0" y2="2220.0" stroke="#fff" stroke-width="5.5" stroke-dasharray="0.1 13" stroke-linecap="round"/>
<rect x="774.0" y="2182.6" width="358.0" height="15.4" fill="#000" stroke="none" stroke-width="0" />
<line x1="774.0" y1="2201.0" x2="1132.0" y2="2201.0" stroke="#999" stroke-width="2" />
<rect x="770.0" y="2206.0" width="362.0" height="6.6" fill="#000" stroke="none" stroke-width="0" />
<rect x="770.0" y="2225.0" width="405.0" height="6.0" fill="#000" stroke="none" stroke-width="0" />
<rect x="949.0" y="2176.0" width="8.0" height="32.0" fill="#000" stroke="none" stroke-width="0" rx="3"/>
<rect x="1199.8" y="1759.0" width="101.2" height="143.0" fill="#000" stroke="none" stroke-width="0" />
<rect x="1218.4" y="1778.7" width="64.2" height="104.3" fill="url(#wh)" stroke="none" stroke-width="0" />
<rect x="1264.0" y="1379.0" width="32.0" height="380.0" fill="url(#wh)" stroke="none" stroke-width="0" />
<rect x="1264.0" y="1372.0" width="7.5" height="387.0" fill="#000" stroke="none" stroke-width="0" />
<rect x="1289.0" y="1379.0" width="7.3" height="380.0" fill="#000" stroke="none" stroke-width="0" />
<rect x="1202.0" y="1902.0" width="55.0" height="258.0" fill="url(#wh)" stroke="none" stroke-width="0" />
<rect x="1202.0" y="1902.0" width="13.7" height="258.0" fill="#000" stroke="none" stroke-width="0" />
<rect x="1245.0" y="1902.0" width="12.0" height="328.0" fill="#000" stroke="none" stroke-width="0" />
<rect x="1143.0" y="2167.0" width="63.4" height="40.0" fill="url(#wh)" stroke="none" stroke-width="0" />
<rect x="1206.0" y="2160.0" width="41.0" height="110.0" fill="url(#wh)" stroke="none" stroke-width="0" />
<rect x="1245.0" y="2229.6" width="166.0" height="38.4" fill="url(#wh)" stroke="none" stroke-width="0" />
<rect x="1245.0" y="2150.0" width="12.0" height="80.0" fill="#000" stroke="none" stroke-width="0" />
<rect x="1132.0" y="2153.6" width="113.0" height="13.4" fill="#000" stroke="none" stroke-width="0" />
<rect x="1132.0" y="2153.6" width="11.0" height="75.4" fill="#000" stroke="none" stroke-width="0" />
<rect x="1143.0" y="2206.4" width="63.4" height="10.4" fill="#000" stroke="none" stroke-width="0" />
<rect x="1196.0" y="2206.4" width="10.4" height="64.2" fill="#000" stroke="none" stroke-width="0" />
<rect x="1196.0" y="2268.0" width="215.5" height="12.7" fill="#000" stroke="none" stroke-width="0" />
<rect x="1247.0" y="2216.5" width="164.5" height="13.1" fill="#000" stroke="none" stroke-width="0" />
<rect x="1399.6" y="2216.5" width="11.9" height="79.5" fill="#000" stroke="none" stroke-width="0" />
<rect x="1143.0" y="2216.8" width="53.0" height="12.2" fill="url(#ins)" stroke="none" stroke-width="0" />
<rect x="1175.0" y="2216.8" width="21.0" height="80.7" fill="url(#ins)" stroke="none" stroke-width="0" />
<rect x="1175.0" y="2280.7" width="225.0" height="12.3" fill="url(#ins)" stroke="none" stroke-width="0" />
<rect x="1172.0" y="2229.0" width="8.0" height="71.0" fill="#000" stroke="none" stroke-width="0" />
<rect x="1172.0" y="2292.6" width="239.5" height="7.4" fill="#000" stroke="none" stroke-width="0" />
<rect x="1143.0" y="2227.0" width="37.0" height="5.0" fill="#000" stroke="none" stroke-width="0" />
<line x1="1148.0" y1="2223.0" x2="1186.0" y2="2223.0" stroke="#fff" stroke-width="5.5" stroke-dasharray="0.1 13" stroke-linecap="round"/>
<line x1="1185.5" y1="2223.0" x2="1185.5" y2="2287.0" stroke="#fff" stroke-width="5.5" stroke-dasharray="0.1 13" stroke-linecap="round"/>
<line x1="1185.5" y1="2287.0" x2="1398.0" y2="2287.0" stroke="#fff" stroke-width="5.5" stroke-dasharray="0.1 13" stroke-linecap="round"/>
<rect x="1411.0" y="2244.5" width="359.0" height="15.5" fill="#000" stroke="none" stroke-width="0" />
<line x1="1411.0" y1="2263.0" x2="1770.0" y2="2263.0" stroke="#999" stroke-width="2" />
<rect x="1411.0" y="2271.0" width="359.0" height="6.5" fill="#000" stroke="none" stroke-width="0" />
<rect x="1405.0" y="2290.0" width="370.0" height="7.0" fill="#000" stroke="none" stroke-width="0" />
<rect x="1545.0" y="2238.0" width="8.0" height="32.0" fill="#000" stroke="none" stroke-width="0" rx="3"/>
<rect x="1782.0" y="2228.0" width="159.7" height="39.0" fill="url(#wh)" stroke="none" stroke-width="0" />
<rect x="1770.4" y="2215.6" width="171.3" height="13.1" fill="#000" stroke="none" stroke-width="0" />
<rect x="1770.4" y="2215.6" width="12.0" height="81.4" fill="#000" stroke="none" stroke-width="0" />
<rect x="1770.4" y="2266.7" width="171.3" height="12.0" fill="#000" stroke="none" stroke-width="0" />
<rect x="1782.0" y="2278.7" width="153.0" height="13.0" fill="url(#ins)" stroke="none" stroke-width="0" />
<rect x="1770.4" y="2291.7" width="171.3" height="5.3" fill="#000" stroke="none" stroke-width="0" />
<rect x="1934.0" y="2215.6" width="7.7" height="93.4" fill="#000" stroke="none" stroke-width="0" />
<line x1="1788.0" y1="2285.0" x2="1932.0" y2="2285.0" stroke="#fff" stroke-width="5.5" stroke-dasharray="0.1 13" stroke-linecap="round"/>
<rect x="1495.0" y="1352.5" width="379.0" height="35.2" fill="url(#wh)" stroke="none" stroke-width="0" />
<rect x="1494.5" y="1352.5" width="386.5" height="8.5" fill="#000" stroke="none" stroke-width="0" />
<rect x="1494.5" y="1377.0" width="386.5" height="10.8" fill="#000" stroke="none" stroke-width="0" />
<rect x="1494.5" y="1352.5" width="7.5" height="35.3" fill="#000" stroke="none" stroke-width="0" />
<polygon points="1177.6,1294.7 1267.6,1372.7 1278.4,1360.3 1188.4,1282.3" fill="#fff" stroke="#000" stroke-width="7" stroke-linejoin="miter"/>
<line x1="1201.8" y1="1315.7" x2="1212.6" y2="1303.2" stroke="#000" stroke-width="5" />
<line x1="1213.1" y1="1325.5" x2="1223.9" y2="1313.0" stroke="#000" stroke-width="5" />
<line x1="1229.0" y1="1339.3" x2="1239.8" y2="1326.8" stroke="#000" stroke-width="5" />
<line x1="1239.6" y1="1348.4" x2="1250.4" y2="1336.0" stroke="#000" stroke-width="5" />
<line x1="1253.2" y1="1360.2" x2="1264.0" y2="1347.8" stroke="#000" stroke-width="5" />
<path d="M1268,1356.5 L1312.5,1356.5 L1312.5,1380" fill="none" stroke="#000" stroke-width="8" />
<line x1="1290.0" y1="1379.0" x2="1312.0" y2="1357.0" stroke="#000" stroke-width="6" />
<path d="M1267.5,1366 L1267.5,1390" fill="none" stroke="#000" stroke-width="7.5" />
<polygon points="920.3,1050.3 1048.3,1164.3 1059.7,1151.7 931.7,1037.7" fill="#fff" stroke="#000" stroke-width="6.5" />
<polygon points="920.3,1050.3 939.8,1067.6 951.1,1054.9 931.7,1037.7" fill="#000" stroke="#000" stroke-width="3" />
<line x1="928.2" y1="1052.0" x2="934.2" y2="1045.3" stroke="#fff" stroke-width="3" />
<line x1="937.2" y1="1060.0" x2="943.2" y2="1053.3" stroke="#fff" stroke-width="3" />
<polygon points="1028.9,1147.1 1048.3,1164.3 1059.7,1151.7 1040.2,1134.4" fill="#000" stroke="#000" stroke-width="3" />
<line x1="1036.8" y1="1148.7" x2="1042.8" y2="1142.0" stroke="#fff" stroke-width="3" />
<line x1="1045.8" y1="1156.7" x2="1051.8" y2="1150.0" stroke="#fff" stroke-width="3" />
<polygon points="999.5,1096.5 1137.5,1212.5 1148.5,1199.5 1010.5,1083.5" fill="#fff" stroke="#000" stroke-width="6.5" />
<polygon points="999.5,1096.5 1019.4,1113.2 1030.4,1100.2 1010.5,1083.5" fill="#000" stroke="#000" stroke-width="3" />
<line x1="1007.5" y1="1097.9" x2="1013.3" y2="1091.1" stroke="#fff" stroke-width="3" />
<line x1="1016.6" y1="1105.7" x2="1022.4" y2="1098.8" stroke="#fff" stroke-width="3" />
<polygon points="1117.6,1195.8 1137.5,1212.5 1148.5,1199.5 1128.6,1182.8" fill="#000" stroke="#000" stroke-width="3" />
<line x1="1125.6" y1="1197.2" x2="1131.4" y2="1190.3" stroke="#fff" stroke-width="3" />
<line x1="1134.7" y1="1204.9" x2="1140.5" y2="1198.1" stroke="#fff" stroke-width="3" />
<line x1="940.0" y1="1068.0" x2="1040.0" y2="1157.0" stroke="#888" stroke-width="1.5" />
<path d="M744.5,378.5 A205,205 0 0 1 949,194" fill="none" stroke="#000" stroke-width="6.8" />
<rect x="941.5" y="194.0" width="12.0" height="209.0" fill="#fff" stroke="#000" stroke-width="2.6" />
<line x1="947.6" y1="194.0" x2="947.6" y2="403.0" stroke="#000" stroke-width="1.6" />
<line x1="941.0" y1="193.8" x2="954.0" y2="193.8" stroke="#000" stroke-width="4" />
<line x1="780.0" y1="416.0" x2="800.0" y2="416.0" stroke="#888" stroke-width="3" />
<line x1="822.0" y1="416.0" x2="946.0" y2="416.0" stroke="#888" stroke-width="3" />
<rect x="1044.5" y="583.6" width="168.5" height="12.4" fill="#fff" stroke="#000" stroke-width="0" />
<rect x="1044.5" y="583.6" width="168.5" height="5.4" fill="#000" stroke="none" stroke-width="0" />
<rect x="1047.0" y="593.0" width="166.0" height="3.5" fill="#000" stroke="none" stroke-width="0" />
<rect x="1044.5" y="583.6" width="4.5" height="12.9" fill="#000" stroke="none" stroke-width="0" />
<path d="M1047,592 A166,166 0 0 0 1213,756" fill="none" stroke="#000" stroke-width="6.8" />
<rect x="1310.0" y="1377.0" width="14.0" height="190.0" fill="#999" stroke="#000" stroke-width="0" />
<rect x="1309.8" y="1377.0" width="6.2" height="190.0" fill="#000" stroke="none" stroke-width="0" />
<rect x="1321.5" y="1377.0" width="3.0" height="190.0" fill="#000" stroke="none" stroke-width="0" />
<rect x="1309.8" y="1560.0" width="14.7" height="7.0" fill="#000" stroke="none" stroke-width="0" />
<rect x="1309.8" y="1377.0" width="14.7" height="4.0" fill="#000" stroke="none" stroke-width="0" />
<line x1="1319.0" y1="1405.0" x2="1319.0" y2="1450.0" stroke="#444" stroke-width="3.5" />
<path d="M1323,1563.5 A183,183 0 0 0 1498,1385" fill="none" stroke="#000" stroke-width="6.8" />
<rect x="899.0" y="1688.0" width="13.7" height="162.0" fill="#888" stroke="none" stroke-width="0" />
<rect x="899.0" y="1688.0" width="4.5" height="162.0" fill="#000" stroke="none" stroke-width="0" />
<rect x="909.0" y="1688.0" width="3.7" height="162.0" fill="#000" stroke="none" stroke-width="0" />
<rect x="899.0" y="1688.0" width="13.7" height="5.0" fill="#000" stroke="none" stroke-width="0" />
<path d="M906,1691 A183,183 0 0 1 1089,1876" fill="none" stroke="#000" stroke-width="6.8" />
<rect x="1090.0" y="1880.0" width="110.0" height="10.5" fill="#000" stroke="none" stroke-width="0" />
<line x1="1098.0" y1="1877.5" x2="1196.0" y2="1877.5" stroke="#888" stroke-width="2" />
<line x1="1098.0" y1="1893.5" x2="1196.0" y2="1893.5" stroke="#888" stroke-width="2" />
<rect x="1085.0" y="1868.0" width="11.0" height="32.0" fill="#000" stroke="none" stroke-width="0" rx="4"/>
<line x1="966.0" y1="2136.0" x2="1117.0" y2="2185.7" stroke="#000" stroke-width="5" stroke-dasharray="20 7"/>
<line x1="1536.5" y1="2198.0" x2="1434.0" y2="2242.6" stroke="#000" stroke-width="5" stroke-dasharray="20 7"/>
<line x1="1014.8" y1="440.0" x2="1014.8" y2="536.0" stroke="#000" stroke-width="5.5" stroke-linecap="round"/>
<line x1="1014.8" y1="575.0" x2="1014.8" y2="679.0" stroke="#000" stroke-width="5.5" stroke-linecap="round"/>
<line x1="1014.8" y1="720.0" x2="1014.8" y2="822.0" stroke="#000" stroke-width="5.5" stroke-linecap="round"/>
<line x1="1014.8" y1="862.0" x2="1014.8" y2="967.0" stroke="#000" stroke-width="5.5" stroke-linecap="round"/>
<line x1="1014.8" y1="1005.0" x2="1014.8" y2="1150.0" stroke="#000" stroke-width="5.5" stroke-linecap="round"/>
<line x1="1014.8" y1="1437.0" x2="1014.8" y2="1544.0" stroke="#000" stroke-width="5.5" stroke-linecap="round"/>
<line x1="1014.8" y1="1581.0" x2="1014.8" y2="1688.0" stroke="#000" stroke-width="5.5" stroke-linecap="round"/>
<line x1="1014.8" y1="1729.0" x2="1014.8" y2="1848.0" stroke="#000" stroke-width="5.5" stroke-linecap="round"/>
<line x1="1014.8" y1="1872.0" x2="1014.8" y2="1972.0" stroke="#000" stroke-width="5.5" stroke-linecap="round"/>
<line x1="1014.8" y1="2014.0" x2="1014.8" y2="2119.5" stroke="#000" stroke-width="5.5" stroke-linecap="round"/>
<line x1="1014.8" y1="2155.0" x2="1014.8" y2="2242.0" stroke="#000" stroke-width="5.5" stroke-linecap="round"/>
<line x1="1014.8" y1="1150.0" x2="1014.8" y2="1400.0" stroke="#000" stroke-width="4" stroke-linecap="round"/>
<line x1="1251.0" y1="393.0" x2="1251.0" y2="563.0" stroke="#8a8a8a" stroke-width="2.6" />
<line x1="1251.0" y1="590.0" x2="1251.0" y2="608.0" stroke="#8a8a8a" stroke-width="2.6" />
<line x1="1251.0" y1="643.0" x2="1251.0" y2="1108.0" stroke="#8a8a8a" stroke-width="2.6" />
<line x1="1251.0" y1="1137.0" x2="1251.0" y2="1300.0" stroke="#8a8a8a" stroke-width="2.6" />
<line x1="1251.0" y1="1380.0" x2="1251.0" y2="1560.0" stroke="#8a8a8a" stroke-width="2.6" />
<line x1="1251.0" y1="1590.0" x2="1251.0" y2="1830.0" stroke="#8a8a8a" stroke-width="2.6" />
<line x1="1251.0" y1="1885.0" x2="1251.0" y2="2292.0" stroke="#8a8a8a" stroke-width="2.6" />
<line x1="939.0" y1="1852.0" x2="1156.0" y2="1852.0" stroke="#8a8a8a" stroke-width="3" />
<line x1="1185.0" y1="1852.0" x2="1352.0" y2="1852.0" stroke="#8a8a8a" stroke-width="3" />
<line x1="1381.0" y1="1852.0" x2="1470.0" y2="1852.0" stroke="#8a8a8a" stroke-width="3" />
<line x1="1500.0" y1="1852.0" x2="1598.0" y2="1852.0" stroke="#8a8a8a" stroke-width="3" />
<line x1="1625.0" y1="1852.0" x2="1652.0" y2="1852.0" stroke="#8a8a8a" stroke-width="3" />
<line x1="1680.0" y1="1852.0" x2="1845.0" y2="1852.0" stroke="#8a8a8a" stroke-width="3" />
<line x1="1858.0" y1="1852.0" x2="1941.0" y2="1852.0" stroke="#8a8a8a" stroke-width="2" />
<rect x="1337.6" y="2208.0" width="5.4" height="103.0" fill="#000" stroke="none" stroke-width="0" />
<rect x="1348.5" y="2208.0" width="5.5" height="103.0" fill="#000" stroke="none" stroke-width="0" />
<rect x="1581.0" y="1086.5" width="142.0" height="141.0" fill="#fff" stroke="#000" stroke-width="6" rx="46"/>
<rect x="1590.5" y="1096.0" width="123.0" height="122.0" fill="none" stroke="#000" stroke-width="2.8" rx="38"/>
<line x1="1652.5" y1="1230.0" x2="1652.5" y2="1390.0" stroke="#000" stroke-width="6" />
<line x1="1662.0" y1="1265.0" x2="1662.0" y2="1385.0" stroke="#000" stroke-width="5" />
<rect x="803.3" y="773.5" width="157.2" height="116.4" fill="#fff" stroke="#6a6a6a" stroke-width="11" />
<rect x="803.8" y="774.0" width="156.2" height="115.4" fill="none" stroke="#b0b0b0" stroke-width="1.8" />
<rect x="1269.5" y="623.3" width="158.3" height="115.7" fill="#fff" stroke="#6a6a6a" stroke-width="11" />
<rect x="1270.0" y="623.8" width="157.3" height="114.7" fill="none" stroke="#b0b0b0" stroke-width="1.8" />
<rect x="807.5" y="1448.5" width="157.0" height="117.6" fill="#fff" stroke="#6a6a6a" stroke-width="11" />
<rect x="808.0" y="1449.0" width="156.0" height="116.6" fill="none" stroke="#b0b0b0" stroke-width="1.8" />
<rect x="712.5" y="1922.0" width="157.0" height="115.3" fill="#fff" stroke="#6a6a6a" stroke-width="11" />
<rect x="713.0" y="1922.5" width="156.0" height="114.3" fill="none" stroke="#b0b0b0" stroke-width="1.8" />
<rect x="1515.9" y="2056.5" width="157.6" height="116.5" fill="#fff" stroke="#6a6a6a" stroke-width="11" />
<rect x="1516.4" y="2057.0" width="156.6" height="115.5" fill="none" stroke="#b0b0b0" stroke-width="1.8" />
<rect x="783.0" y="1836.0" width="70.6" height="21.0" fill="#999" stroke="#aaa" stroke-width="2" rx="4"/>
<rect x="807.0" y="1857.0" width="23.0" height="29.0" fill="#c8c8c8" stroke="none" stroke-width="0" />
<line x1="792.0" y1="1846.0" x2="845.0" y2="1846.0" stroke="#888" stroke-width="2" />
<rect x="783.0" y="1907.0" width="70.6" height="13.0" fill="#999" stroke="none" stroke-width="0" rx="3"/>
<path d="M817,1922 L794,1960 L842,1960 Z" fill="none" stroke="#999" stroke-width="6" />
<rect x="648.0" y="2146.0" width="52.0" height="20.0" fill="#999" stroke="#aaa" stroke-width="2" rx="4"/>
<rect x="650.0" y="2166.0" width="22.0" height="34.0" fill="#c8c8c8" stroke="none" stroke-width="0" />
<rect x="646.6" y="1539.5" width="6.2" height="705.5" fill="#000" stroke="none" stroke-width="0" />
<rect x="675.6" y="1539.5" width="7.4" height="705.5" fill="#000" stroke="none" stroke-width="0" />
<rect x="646.6" y="1539.5" width="36.4" height="6.0" fill="#000" stroke="none" stroke-width="0" />
<rect x="646.6" y="2238.0" width="36.4" height="7.0" fill="#000" stroke="none" stroke-width="0" />
<circle cx="653.0" cy="1913.0" r="5.0" fill="#000" stroke="none" stroke-width="0"/>
<line x1="984.0" y1="987.7" x2="1144.0" y2="987.7" stroke="#777" stroke-width="2.2" />
<polygon points="931.0,987.7 984.0,977.5 984.0,998.0" fill="#444" stroke="none" stroke-width="0" />
<line x1="699.0" y1="882.0" x2="720.0" y2="882.0" stroke="#555" stroke-width="2" />
<line x1="699.0" y1="882.0" x2="674.6" y2="960.0" stroke="#333" stroke-width="2" />
<polygon points="667.0,992.0 678.0,950.0 690.0,956.0" fill="#444" stroke="none" stroke-width="0" />
<path d="M690,945 L672,1000" fill="none" stroke="#444" stroke-width="5" />
<line x1="558.6" y1="1179.5" x2="823.0" y2="1090.0" stroke="#555" stroke-width="2.2" />
<polygon points="871.0,1071.8 822.0,1078.0 829.0,1099.0" fill="#444" stroke="none" stroke-width="0" />
<line x1="1670.7" y1="699.5" x2="1739.0" y2="699.5" stroke="#555" stroke-width="2" />
<line x1="1739.0" y1="699.5" x2="1790.0" y2="590.0" stroke="#555" stroke-width="2" />
<polygon points="1806.0,567.0 1772.0,604.0 1793.0,616.0" fill="#444" stroke="none" stroke-width="0" />
<line x1="1874.0" y1="380.0" x2="1852.0" y2="420.0" stroke="#555" stroke-width="2" />
<polygon points="1833.0,458.0 1846.0,405.0 1864.0,413.0" fill="#444" stroke="none" stroke-width="0" />
<line x1="1941.0" y1="588.0" x2="1925.0" y2="598.0" stroke="#555" stroke-width="2" />
<polygon points="1881.0,640.0 1917.0,596.0 1929.0,613.0" fill="#444" stroke="none" stroke-width="0" />
<line x1="791.5" y1="1666.0" x2="861.0" y2="1666.0" stroke="#555" stroke-width="2.2" />
<line x1="791.5" y1="1666.0" x2="700.0" y2="1805.0" stroke="#333" stroke-width="2.2" />
<polygon points="685.0,1828.0 699.0,1790.0 716.0,1801.0" fill="#444" stroke="none" stroke-width="0" />
<line x1="791.5" y1="1666.0" x2="812.0" y2="1793.0" stroke="#333" stroke-width="2.2" />
<polygon points="817.4,1836.0 800.0,1793.0 821.0,1790.0" fill="#444" stroke="none" stroke-width="0" />
<path d="M791.5,1666 C740,1770 720,1860 665,2040" fill="none" stroke="#333" stroke-width="2" />
<polygon points="655.0,2068.0 657.0,2028.0 673.0,2034.0" fill="#444" stroke="none" stroke-width="0" />
<line x1="690.5" y1="2134.0" x2="866.5" y2="2134.0" stroke="#666" stroke-width="2.2" />
<polygon points="652.0,2134.0 692.0,2126.0 692.0,2142.0" fill="#444" stroke="none" stroke-width="0" />
<polygon points="585.0,1886.0 650.0,1878.0 592.0,1903.0" fill="#444" stroke="none" stroke-width="0" />
<path d="M558,1905 Q580,1890 600,1893" fill="none" stroke="#777" stroke-width="2" />
<path d="M558,1970 A36,40 0 0 1 558,2050" fill="none" stroke="#000" stroke-width="8" />
<path d="M558,1988 A18,22 0 0 1 558,2032" fill="none" stroke="#bbb" stroke-width="3" />
<path d="M558,2064 A36,40 0 0 1 558,2144" fill="none" stroke="#000" stroke-width="8" />
<path d="M558,2082 A18,22 0 0 1 558,2126" fill="none" stroke="#bbb" stroke-width="3" />
<path d="M970,200 C955,205 957,245 970,248" fill="none" stroke="#666" stroke-width="3" />
<line x1="958.0" y1="262.0" x2="970.0" y2="262.0" stroke="#888" stroke-width="2" />
<line x1="900.0" y1="2240.5" x2="908.0" y2="2240.5" stroke="#222" stroke-width="2.5" />
<line x1="942.0" y1="2240.5" x2="947.0" y2="2240.5" stroke="#222" stroke-width="2.5" />
<line x1="994.0" y1="2240.5" x2="998.0" y2="2240.5" stroke="#222" stroke-width="2.5" />
<line x1="1012.0" y1="2240.5" x2="1032.0" y2="2240.5" stroke="#222" stroke-width="2.5" />
<text transform="translate(710.2,367.0) scale(0.8022471733297662,1)" font-size="73"  fill="#000">UO21-10*</text>
<text transform="translate(723.3,503.0) scale(0.8206462589289065,1)" font-size="84.5" font-weight="700" fill="#000">Ap.-502</text>
<text transform="translate(737.4,667.7) scale(0.82,1)" font-size="87" font-weight="700" fill="#000">1</text>
<text transform="translate(816.0,618.0) scale(0.7940777171546404,1)" font-size="84.5"  fill="#000">11.76</text>
<text transform="translate(821.6,711.0) scale(0.7443580216131406,1)" font-size="84.5"  fill="#000">46.21</text>
<text transform="translate(1022.5,660.2) scale(0.7986508788225856,1)" font-size="73"  fill="#000">UO21-8*</text>
<text transform="translate(824.8,863.0) scale(0.82,1)" font-size="86"  fill="#000">P-6</text>
<text transform="translate(691.2,870.5) scale(0.82,1)" font-size="86"  fill="#555">1</text>
<text transform="translate(1069.4,976.4) scale(0.82,1)" font-size="87"  fill="#555">16</text>
<text transform="translate(1291.0,710.5) scale(0.82,1)" font-size="86"  fill="#000">P-7</text>
<text transform="translate(1445.0,613.6) scale(0.8776465969320504,1)" font-size="84.5"  fill="#000">G.T.S.</text>
<text transform="translate(1435.5,715.0) scale(0.8340193106654139,1)" font-size="84.5"  fill="#000">5.46m²</text>
<text transform="translate(1664.4,687.0) scale(0.82,1)" font-size="87"  fill="#444">12</text>
<text transform="translate(1265.5,845.0) scale(0.82,1)" font-size="87" font-weight="700" fill="#000">11</text>
<text transform="translate(1230.8,1107.0) scale(0.8350830311128078,1)" font-size="84.5"  fill="#000">Antreu+Hol</text>
<text transform="translate(1275.4,1210.0) scale(0.8389611815736011,1)" font-size="84.5"  fill="#000">15.11m²</text>
<text transform="translate(1279.8,1332.8) scale(0.82,1)" font-size="87" font-weight="700" fill="#000">10</text>
<text transform="translate(1614.0,1189.0) scale(0.82,1)" font-size="84.5"  fill="#000">11</text>
<text transform="translate(1006.0,1050.0) rotate(43.5) scale(0.8,1)" font-size="73"  fill="#000">UGL27,2-16</text>
<text transform="translate(762.6,1298.0) scale(0.8447927911015158,1)" font-size="84.5"  fill="#000">Bucătărie</text>
<text transform="translate(781.2,1401.0) scale(0.8335333305747507,1)" font-size="84.5"  fill="#000">10.38m²</text>
<text transform="translate(830.4,1537.0) scale(0.82,1)" font-size="86"  fill="#000">P-5</text>
<text transform="translate(786.0,1653.0) scale(0.82,1)" font-size="86"  fill="#555">18</text>
<text transform="translate(886.3,1659.0) scale(0.82,1)" font-size="86" font-weight="700" fill="#000">09</text>
<text transform="translate(1305.1,1456.0) scale(0.8141621650869807,1)" font-size="73"  fill="#000">UG21-9*</text>
<text transform="translate(1427.1,1577.5) scale(0.849155992807522,1)" font-size="84.5"  fill="#000">Dormitor</text>
<text transform="translate(1439.0,1682.5) scale(0.8396369457150218,1)" font-size="84.5"  fill="#000">11.76m²</text>
<text transform="translate(955.2,1851.0) scale(0.8031643727838071,1)" font-size="73"  fill="#000">V24-15</text>
<text transform="translate(735.6,2009.0) scale(0.82,1)" font-size="86"  fill="#000">P-3</text>
<text transform="translate(891.0,1990.0) scale(0.8229942100909844,1)" font-size="84.5"  fill="#000">Veranda</text>
<text transform="translate(907.5,2093.6) scale(0.8410785390469646,1)" font-size="84.5"  fill="#000">3.50m²</text>
<text transform="translate(795.3,2121.5) scale(0.82,1)" font-size="86"  fill="#555">21</text>
<text transform="translate(1114.8,2140.0) scale(0.82,1)" font-size="86" font-weight="700" fill="#000">12</text>
<text transform="translate(1326.4,2195.9) scale(0.82,1)" font-size="87" font-weight="700" fill="#000">08</text>
<text transform="translate(1538.8,2144.0) scale(0.82,1)" font-size="86"  fill="#000">P-6</text>
</svg></body></html>
